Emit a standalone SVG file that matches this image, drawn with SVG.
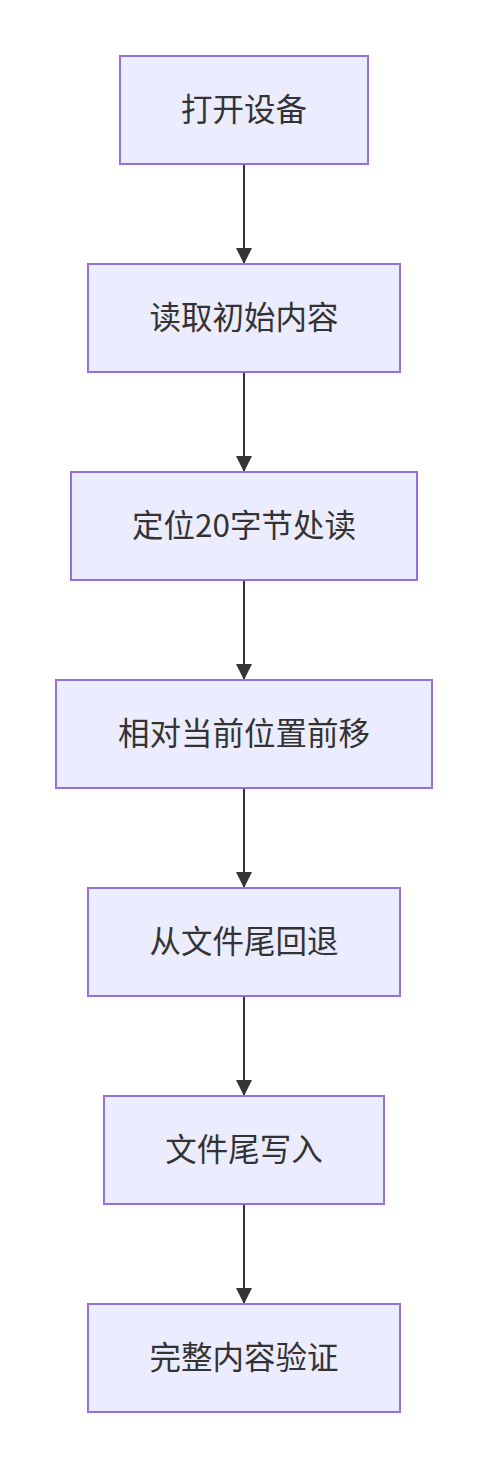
<svg xmlns="http://www.w3.org/2000/svg" width="488" height="1468" viewBox="0 0 488 1468">
<style>
.node rect{fill:#ECECFF;stroke:#9370DB;stroke-width:2}
.node text{font-family:"Noto Sans CJK SC","Noto Sans",sans-serif;font-size:31.5px;fill:#333333;text-anchor:middle;dominant-baseline:central}
.edge{stroke:#333333;stroke-width:2;fill:none}
</style>
<defs>
<marker id="arr" markerWidth="16" markerHeight="16" viewBox="0 0 16 16" refX="16" refY="8" orient="auto" markerUnits="userSpaceOnUse">
<path d="M0,0 L16,8 L0,16 z" fill="#333333"/>
</marker>
</defs>
<rect width="488" height="1468" fill="#ffffff"/>
<g id="edges">
<line class="edge" x1="244" y1="164" x2="244" y2="264" marker-end="url(#arr)"/>
<line class="edge" x1="244" y1="372" x2="244" y2="472" marker-end="url(#arr)"/>
<line class="edge" x1="244" y1="580" x2="244" y2="680" marker-end="url(#arr)"/>
<line class="edge" x1="244" y1="788" x2="244" y2="888" marker-end="url(#arr)"/>
<line class="edge" x1="244" y1="996" x2="244" y2="1096" marker-end="url(#arr)"/>
<line class="edge" x1="244" y1="1204" x2="244" y2="1304" marker-end="url(#arr)"/>
</g>
<g id="n1" class="node"><rect x="120" y="56" width="248" height="108"/><text x="244" y="107">打开设备</text></g>
<g id="n2" class="node"><rect x="88" y="264" width="312" height="108"/><text x="244" y="315">读取初始内容</text></g>
<g id="n3" class="node"><rect x="71" y="472" width="346" height="108"/><text x="244" y="523">定位20字节处读</text></g>
<g id="n4" class="node"><rect x="56" y="680" width="376" height="108"/><text x="244" y="731">相对当前位置前移</text></g>
<g id="n5" class="node"><rect x="88" y="888" width="312" height="108"/><text x="244" y="939">从文件尾回退</text></g>
<g id="n6" class="node"><rect x="104" y="1096" width="280" height="108"/><text x="244" y="1147">文件尾写入</text></g>
<g id="n7" class="node"><rect x="88" y="1304" width="312" height="108"/><text x="244" y="1355">完整内容验证</text></g>
</svg>
